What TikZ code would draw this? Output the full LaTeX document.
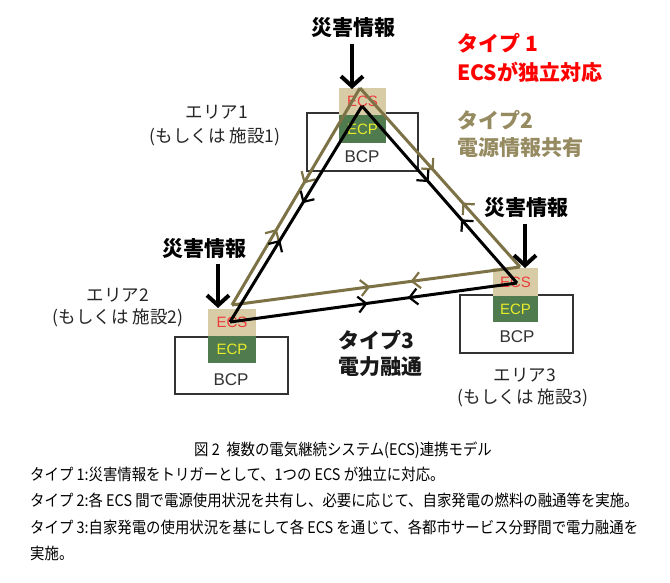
\documentclass[tikz,border=0pt]{standalone}
\usepackage{fontspec}
\setmainfont{Noto Sans CJK JP}
\newfontfamily\arialf{Liberation Sans}
\newfontfamily\capf[FakeStretch=0.9]{Noto Sans CJK JP}
\usetikzlibrary{arrows.meta,decorations.markings}
\definecolor{olivel}{HTML}{7D7245}
\definecolor{olivet}{HTML}{958A60}
\definecolor{ecsfill}{HTML}{D8CCA6}
\definecolor{ecpfill}{HTML}{4F7B4F}
\definecolor{ecptext}{HTML}{E8EC2A}
\definecolor{ecsred}{HTML}{EE3B3B}
\definecolor{bcpborder}{HTML}{333333}
\definecolor{typered}{HTML}{FF0000}
\begin{document}
\begin{tikzpicture}[x=1pt,y=-1pt,
  bcpbox/.style={draw=bcpborder, fill=white, line width=1.2pt, inner sep=0pt},
  ecsbox/.style={fill=ecsfill, inner sep=0pt, text=ecsred, font=\arialf\fontsize{15}{15}\selectfont},
  ecpbox/.style={fill=ecpfill, inner sep=0pt, text=ecptext, font=\arialf\fontsize{15}{15}\selectfont},
  bcptext/.style={text=bcpborder, inner sep=0pt, font=\arialf\fontsize{17}{17}\selectfont},
  arealabel/.style={text=black!85, inner sep=0pt, font=\fontsize{17.5}{17.5}\selectfont},
  alert/.style={inner sep=0pt, font=\bfseries\fontsize{21}{21}\selectfont},
  typelabel/.style={inner sep=0pt, anchor=west, font=\bfseries\fontsize{21}{21}\selectfont},
  alertarrow/.style={line width=4.5pt, -{Straight Barb[length=10pt,width=22pt,line width=4pt]}},
  captext/.style={inner sep=0pt, font=\capf\fontsize{16}{16}\selectfont},
  capline/.style={captext, anchor=west},
  flow/.style n args={2}{postaction={decorate}, decoration={markings,
     mark=at position #1 with {\arrow{Straight Barb[length=8pt,width=16pt,line width=2.2pt]}},
     mark=at position #2 with {\arrowreversed{Straight Barb[length=8pt,width=16pt,line width=2.2pt]}}}},
  blackline/.style={draw=black, line width=3pt, line join=miter},
  oliveline/.style={draw=olivel, line width=3pt, line join=miter}
  ]
\useasboundingbox (0,0) rectangle (670,583);
\fill[white] (0,0) rectangle (670,583);

% boxes area 1
\node[bcpbox, minimum width=111, minimum height=58] (bcp1) at (362.5,142) {};
\node[ecsbox, minimum width=47, minimum height=27] (ecs1) at (362.5,101.5) {ECS};
\node[ecpbox, minimum width=47, minimum height=28] (ecp1) at (362.5,129) {ECP};
\node[bcptext] (bt1) at (362,157) {BCP};
% area 2
\node[bcpbox, minimum width=113, minimum height=57] (bcp2) at (231.5,365.5) {};
\node[ecsbox, minimum width=48, minimum height=27] (ecs2) at (232,322.5) {ECS};
\node[ecpbox, minimum width=48, minimum height=27] (ecp2) at (232,349.5) {ECP};
\node[bcptext] (bt2) at (231,380) {BCP};
% area 3
\node[bcpbox, minimum width=113, minimum height=58] (bcp3) at (516.5,324) {};
\node[ecsbox, minimum width=45, minimum height=28] (ecs3) at (515.5,282) {ECS};
\node[ecpbox, minimum width=45, minimum height=26] (ecp3) at (515.5,309) {ECP};
\node[bcptext] (bt3) at (517,337) {BCP};

% triangle vertices
\coordinate (o1) at (360,88);
\coordinate (o2) at (232,305);
\coordinate (o3) at (520,267);
\coordinate (k1) at (362,106);
\coordinate (k2) at (230,322);
\coordinate (k3) at (517,283);

% olive lines (type 2)
\draw[oliveline, flow={0.35}{0.56}] (o2) -- (o1);
\draw[oliveline, flow={0.46}{0.64}] (o1) -- (o3);
\draw[oliveline, flow={0.48}{0.62}] (o2) -- (o3);
% black lines (type 3)
\draw[blackline, flow={0.38}{0.55}] (k2) -- (k1);
\draw[blackline, flow={0.43}{0.64}] (k1) -- (k3);
\draw[blackline, flow={0.48}{0.62}] (k2) -- (k3);

% alerts
\node[alert] (al1) at (353,28) {災害情報};
\coordinate (al1t) at (352,89);
\draw[alertarrow] (352,44) -- (al1t);
\node[alert] (al2) at (204,249) {災害情報};
\coordinate (al2t) at (218,308);
\draw[alertarrow] (218,264) -- (al2t);
\node[alert] (al3) at (526,208) {災害情報};
\coordinate (al3t) at (525,268);
\draw[alertarrow] (525,224) -- (al3t);

% type labels
\node[typelabel, text=typered] (t1a) at (457,43) {タイプ 1};
\node[typelabel, text=typered] (t1b) at (457,72) {ECSが独立対応};
\node[typelabel, text=olivet] (t2a) at (457,120) {タイプ2};
\node[typelabel, text=olivet] (t2b) at (457,148) {電源情報共有};
\node[typelabel, text=black!90] (t3a) at (338,340) {タイプ3};
\node[typelabel, text=black!90] (t3b) at (338,367) {電力融通};

% area labels
\node[arealabel] (a1a) at (217,112) {エリア1};
\node[arealabel] (a1b) at (215,137) {(もしくは 施設1)};
\node[arealabel] (a2a) at (118,295) {エリア2};
\node[arealabel] (a2b) at (118,318) {(もしくは 施設2)};
\node[arealabel] (a3a) at (525,375) {エリア3};
\node[arealabel] (a3b) at (523,398) {(もしくは 施設3)};

% caption
\node[captext] (cap) at (343,450) {図 2\ \ 複数の電気継続システム(ECS)連携モデル};
\node[capline] (c1) at (30,474) {タイプ 1:災害情報をトリガーとして、1つの ECS が独立に対応。};
\node[capline] (c2) at (30,500) {タイプ 2:各 ECS 間で電源使用状況を共有し、必要に応じて、自家発電の燃料の融通等を実施。};
\node[capline] (c3) at (30,527) {タイプ 3:自家発電の使用状況を基にして各 ECS を通じて、各都市サービス分野間で電力融通を};
\node[capline] (c4) at (30,553) {実施。};
\end{tikzpicture}
\end{document}
